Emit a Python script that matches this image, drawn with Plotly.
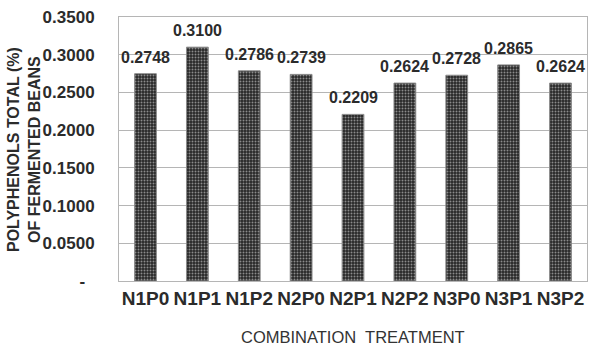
import plotly.graph_objects as go

categories = ["N1P0", "N1P1", "N1P2", "N2P0", "N2P1", "N2P2", "N3P0", "N3P1", "N3P2"]
values = [0.2748, 0.3100, 0.2786, 0.2739, 0.2209, 0.2624, 0.2728, 0.2865, 0.2624]
y_tickvals = [0, 0.05, 0.10, 0.15, 0.20, 0.25, 0.30, 0.35]
y_ticktext = ["-  ", "0.0500", "0.1000", "0.1500", "0.2000", "0.2500", "0.3000", "0.3500"]

FONT = "Liberation Sans, Arial, sans-serif"
TXT = "#2b2b2b"

fig = go.Figure()
fig.add_trace(go.Bar(
    x=categories,
    y=values,
    width=0.42,
    cliponaxis=False,
    marker=dict(
        color="#2a2a2a",
        line=dict(color="#8a8a8a", width=1),
        pattern=dict(shape=".", fgcolor="#f0f0f0", bgcolor="#262626", size=3, solidity=0.35),
    ),
))

for c, v in zip(categories, values):
    fig.add_annotation(
        x=c, y=v, text=f"{v:.4f}", showarrow=False,
        xanchor="center", yanchor="bottom", yshift=6,
        font=dict(family=FONT, size=16, color=TXT, weight="bold"),
    )

fig.update_layout(
    width=591, height=347,
    margin=dict(l=119, r=4, t=17, b=66),
    paper_bgcolor="white", plot_bgcolor="white",
    showlegend=False,
    bargap=0.58,
    font=dict(family=FONT, color=TXT),
)
fig.update_xaxes(
    showline=True, linecolor="#b5b5b5", linewidth=1, mirror=True,
    showgrid=False, ticks="",
    tickfont=dict(family=FONT, size=19, color=TXT, weight="bold"),
)
fig.update_yaxes(
    range=[0, 0.35], tickvals=y_tickvals, ticktext=y_ticktext,
    showgrid=True, gridcolor="#b5b5b5", gridwidth=1,
    showline=True, linecolor="#b5b5b5", linewidth=1, mirror=True,
    zeroline=False, ticks="",
    ticklabelstandoff=20,
    tickfont=dict(family=FONT, size=17, color=TXT, weight="bold"),
)
fig.add_annotation(
    text="POLYPHENOLS TOTAL (%)<br>OF FERMENTED BEANS",
    xref="paper", yref="paper", x=-0.203, y=0.5,
    xanchor="center", yanchor="middle", textangle=-90, showarrow=False,
    font=dict(family=FONT, size=16, color=TXT, weight="bold"),
)
fig.add_annotation(
    text="COMBINATION  TREATMENT",
    xref="paper", yref="paper", x=0.5, y=-0.212,
    xanchor="center", yanchor="middle", showarrow=False,
    font=dict(family=FONT, size=16.5, color="#333333"),
)
fig.write_html("out.html")
